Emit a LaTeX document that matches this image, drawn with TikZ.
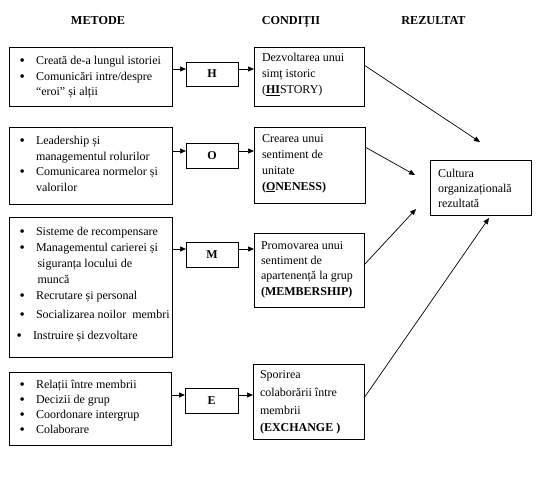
\documentclass[tikz,border=0pt]{standalone}
\usepackage{fontspec}
\setmainfont{Liberation Serif}
\usetikzlibrary{arrows.meta,calc}
\newcommand\bul{\makebox[16.5bp][l]{\fontsize{15bp}{15bp}\selectfont\raisebox{-1bp}{•}}}
\newcommand\ind{\hspace*{16.5bp}}
\newcommand\fs{\rule{0pt}{10bp}}
\begin{document}
\begin{tikzpicture}[x=1bp,y=-1bp,
  box/.style={draw=black, line width=0.8bp, inner sep=0, outer sep=0, anchor=north west},
  txt/.style={anchor=north west, inner sep=0, outer sep=0, align=left},
  ttl/.style={anchor=base, inner sep=0, font=\fontsize{12.2bp}{14bp}\selectfont\bfseries},
  letter/.style={inner sep=0, font=\fontsize{12bp}{14bp}\selectfont\bfseries},
  arr/.style={-{Triangle[length=6bp,width=5bp]}, line width=0.7bp}]
\useasboundingbox (0,0) rectangle (539,496);
% titles
\node[ttl] (tm) at (98,25) {METODE};
\node[ttl] (tc) at (291,25) {CONDIȚII};
\node[ttl] (tr) at (433.5,25) {REZULTAT};
% method boxes
\node[box, minimum width=163bp, minimum height=59bp] (m1) at (9,47) {};
\node[box, minimum width=163bp, minimum height=77bp] (m2) at (9,127) {};
\node[box, minimum width=163bp, minimum height=140bp] (m3) at (9,217) {};
\node[box, minimum width=162bp, minimum height=73bp] (m4) at (9,372) {};
% letter boxes
\node[box, minimum width=52bp, minimum height=24bp] (h) at (186,62) {};
\node[box, minimum width=52bp, minimum height=25bp] (o) at (186,143) {};
\node[box, minimum width=52bp, minimum height=25bp] (mm) at (186,242) {};
\node[box, minimum width=53bp, minimum height=25bp] (e) at (185,388) {};
\node[letter] (hl) at (h.center) {H};
\node[letter] (ol) at (o.center) {O};
\node[letter] (ml) at (mm.center) {M};
\node[letter] (el) at (e.center) {E};
% condition boxes
\node[box, minimum width=110bp, minimum height=59bp] (c1) at (254,47) {};
\node[box, minimum width=111bp, minimum height=76bp] (c2) at (254,127) {};
\node[box, minimum width=110bp, minimum height=74bp] (c3) at (254,233) {};
\node[box, minimum width=111bp, minimum height=75bp] (c4) at (253,364) {};
% result box
\node[box, minimum width=101bp, minimum height=55bp] (res) at (430,160) {};
% texts
\node[txt, font=\fontsize{12bp}{15.5bp}\selectfont] (m1t) at (19.5,55) {\fs\bul Creată de-a lungul istoriei\\
\bul Comunicări intre/despre\\
\ind “eroi” și alții};
\node[txt, font=\fontsize{12bp}{15.7bp}\selectfont] (m2t) at (19.5,134.5) {\fs\bul Leadership și\\
\ind managementul rolurilor\\
\bul Comunicarea normelor și\\
\ind valorilor};
\node[txt, font=\fontsize{12bp}{16bp}\selectfont] (m3t) at (19.5,225) {\fs\bul Sisteme de recompensare\\
\bul Managementul carierei și\\
\hspace*{18bp}siguranța locului de\\
\hspace*{18bp}muncă\\
\bul Recrutare și personal\\[3bp]
\bul Socializarea noilor\ \ membri\\[5bp]
\hspace*{-3bp}\bul Instruire și dezvoltare};
\node[txt, font=\fontsize{12bp}{15bp}\selectfont] (m4t) at (19.5,378.5) {\fs\bul Relații între membrii\\
\bul Decizii de grup\\
\bul Coordonare intergrup\\
\bul Colaborare};
\node[txt, font=\fontsize{12bp}{15.8bp}\selectfont] (c1t) at (262,52) {\fs Dezvoltarea unui\\
simț istoric\\
(\underline{\textbf{HI}}STORY)};
\node[txt, font=\fontsize{12bp}{15.7bp}\selectfont] (c2t) at (262,133) {\fs Crearea unui\\
sentiment de\\
unitate\\
\textbf{(\underline{O}NENESS)}};
\node[txt, font=\fontsize{12bp}{15.3bp}\selectfont] (c3t) at (261,239.3) {\fs Promovarea unui\\
sentiment de\\
apartenență la grup\\
\textbf{(MEMBERSHIP)}};
\node[txt, font=\fontsize{12bp}{17.8bp}\selectfont] (c4t) at (260,368.5) {\fs Sporirea\\
colaborării între\\
membrii\\
\textbf{(EXCHANGE )}};
\node[txt, font=\fontsize{12bp}{15bp}\selectfont] (rest) at (438,167) {\fs Cultura\\
organizațională\\
rezultată};
% row levels for horizontal arrows
\coordinate (r1) at (0,69);
\coordinate (r2) at (0,151);
\coordinate (r3) at (0,249);
\coordinate (r4) at (0,395);
\draw[arr] (m1.east |- r1) -- (h.west |- r1);
\draw[arr] (h.east |- r1) -- (c1.west |- r1);
\draw[arr] (m2.east |- r2) -- (o.west |- r2);
\draw[arr] (o.east |- r2) -- (c2.west |- r2);
\draw[arr] (m3.east |- r3) -- (mm.west |- r3);
\draw[arr] (mm.east |- r3) -- (c3.west |- r3);
\draw[arr] (m4.east |- r4) -- (e.west |- r4);
\draw[arr] (e.east |- r4) -- (c4.west |- r4);
% diagonal arrows towards result
\coordinate (e1) at (480,142);
\coordinate (e2) at (415,175);
\coordinate (e3) at (416,209);
\coordinate (e4) at (489,218);
\draw[arr] ($(c1.north east)+(0,18)$) -- (e1);
\draw[arr] ($(c2.north east)+(0,20)$) -- (e2);
\draw[arr] ($(c3.north east)+(0,32)$) -- (e3);
\draw[arr] ($(c4.north east)+(0,34)$) -- (e4);
\end{tikzpicture}
\end{document}
